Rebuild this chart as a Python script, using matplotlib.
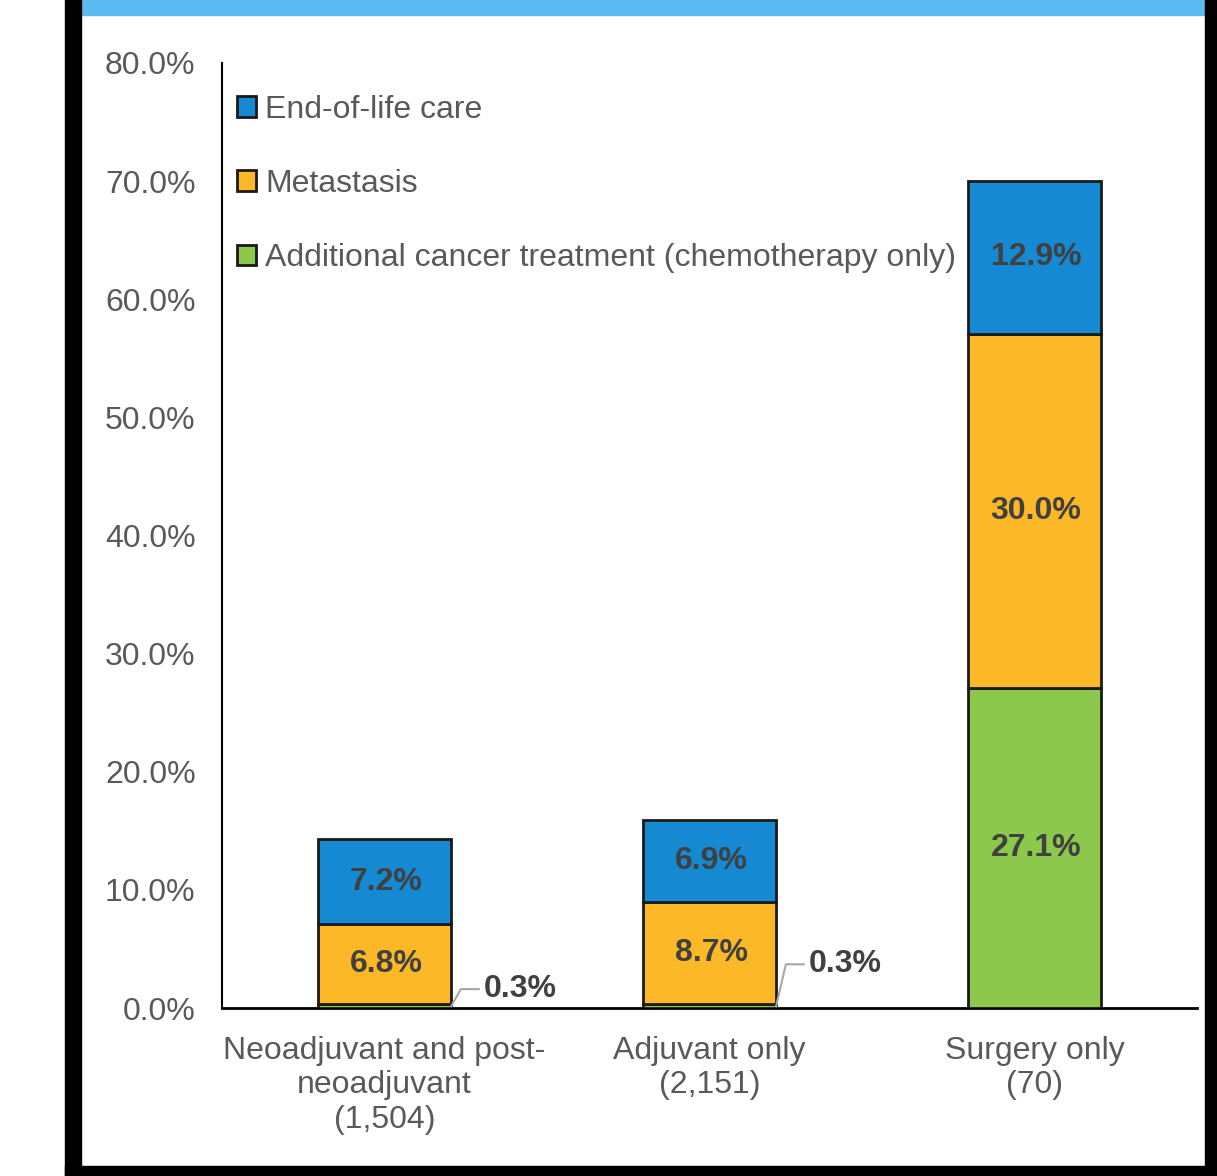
import matplotlib.pyplot as plt
from matplotlib.patches import Rectangle

plt.rcParams['font.family'] = ['Liberation Sans', 'DejaVu Sans']

groups = ['Neoadjuvant and post-\nneoadjuvant\n(1,504)', 'Adjuvant only\n(2,151)', 'Surgery only\n(70)']
additional = [0.3, 0.3, 27.1]
metastasis = [6.8, 8.7, 30.0]
end_of_life = [7.2, 6.9, 12.9]
series_names = ['Additional cancer treatment (chemotherapy only)', 'Metastasis', 'End-of-life care']
colors = ['#8CC84B', '#FDB827', '#1589D2']
yticks = [0, 10, 20, 30, 40, 50, 60, 70, 80]

fig = plt.figure(figsize=(12.17, 11.76), dpi=100)
W, H = 1217, 1176

# frame decorations (pixel coords -> figure coords)
def px_rect(x0, y0, x1, y1, color):
    fig.patches.append(Rectangle((x0 / W, 1 - y1 / H), (x1 - x0) / W, (y1 - y0) / H,
                                 transform=fig.transFigure, color=color, zorder=0))

px_rect(81, 0, 1205, 15, '#5BBBF1')
px_rect(65, 0, 81, H, 'black')
px_rect(1205, 0, W, H, 'black')
px_rect(65, 1166, W, H, 'black')

ax = fig.add_axes([222 / W, 1 - 1008 / H, (1197 - 222) / W, (1008 - 63) / H])

x = list(range(len(groups)))
width = 0.41
bottom = [0, 0, 0]
handles = []
for vals, name, c in zip([additional, metastasis, end_of_life], series_names, colors):
    b = ax.bar(x, vals, width, bottom=bottom, color=c, edgecolor='#1a1a1a', linewidth=2, label=name, zorder=3)
    handles.append(b)
    for i, v in enumerate(vals):
        if v >= 1:
            ax.text(x[i] + 0.005, bottom[i] + v / 2, f'{v:.1f}%', ha='center', va='center',
                    fontsize=23, fontweight='bold', color='#404040', zorder=4)
    bottom = [bt + v for bt, v in zip(bottom, vals)]

# small labels with leader lines for tiny segments
for i, ty in enumerate([1.6, 3.7]):
    v = additional[i]
    x0 = x[i] + width / 2
    ax.plot([x0, x0 + 0.03, x0 + 0.085], [v / 2, ty, ty], color='#a6a6a6', lw=1.5, zorder=4, clip_on=False)
    ax.text(x0 + 0.1, ty, f'{v:.1f}%', ha='left', va='center', fontsize=23,
            fontweight='bold', color='#404040')

ax.set_xlim(-0.5, 2.5)
ax.set_ylim(0, 80)
ax.set_yticks(yticks)
ax.set_yticklabels([f'{t:.1f}%' for t in yticks], fontsize=23, color='#595959')
ax.set_xticks(x)
ax.set_xticklabels(groups, fontsize=23, color='#595959', linespacing=1.2)
ax.tick_params(length=0, axis='y', pad=19)
ax.tick_params(length=0, axis='x', pad=20)
for s in ['top', 'right']:
    ax.spines[s].set_visible(False)
ax.spines['left'].set_color('black')
ax.spines['bottom'].set_color('black')
ax.spines['left'].set_linewidth(1.5)
ax.spines['bottom'].set_linewidth(2)

leg = ax.legend(handles[::-1], series_names[::-1], loc='upper left', bbox_to_anchor=(-0.008, 0.99),
                frameon=False, fontsize=23, handlelength=0.6, handleheight=0.6,
                handletextpad=0.3, labelspacing=1.38, borderaxespad=0.3)
for t in leg.get_texts():
    t.set_color('#595959')

fig.savefig('out.png', dpi=100)
